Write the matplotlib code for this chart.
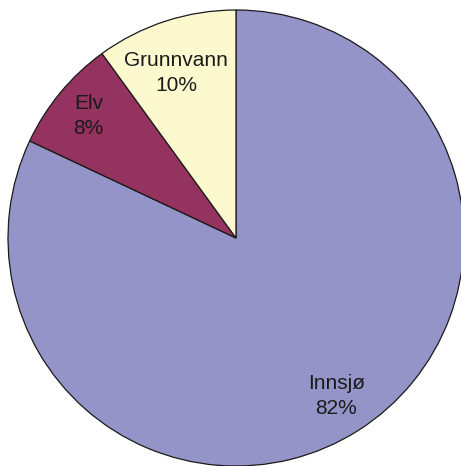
import matplotlib
matplotlib.use("Agg")
import matplotlib.pyplot as plt
import numpy as np

categories = ["Innsjø", "Elv", "Grunnvann"]
values = [82, 8, 10]
colors = ["#9494C8", "#94335F", "#FCF9CE"]
label_dist = [0.82, 0.84, 0.77]
label_ang_offset = [0.0, 0.0, 1.9]

fig = plt.figure(figsize=(4.61, 4.66), dpi=100)
ax = fig.add_axes([0, 0, 1, 1])
wedges, _ = ax.pie(values, colors=colors, startangle=90, counterclock=False,
                   wedgeprops=dict(edgecolor="#1a1a1a", linewidth=0.9))
for w, cat, v, d, off in zip(wedges, categories, values, label_dist, label_ang_offset):
    ang = np.deg2rad((w.theta1 + w.theta2) / 2 + off)
    ax.text(d * np.cos(ang), d * np.sin(ang), f"{cat}\n{v}%", ha="center", va="center",
            fontsize=15, family="Liberation Sans", color="#1a1a1a", linespacing=1.4)
ax.set_aspect("auto")
ax.set_xlim(-236 / 228, 225 / 228)
ax.set_ylim(-228 / 228, 238 / 228)
ax.axis("off")
fig.savefig("out.png", dpi=100)
